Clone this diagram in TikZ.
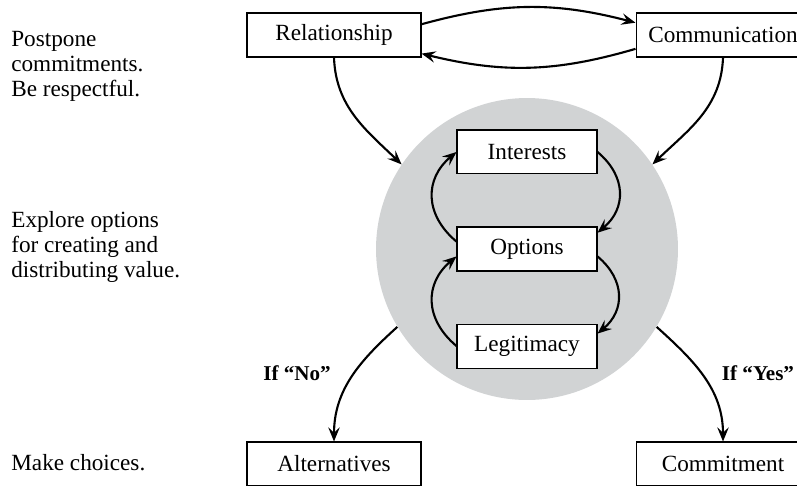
\documentclass[tikz,border=0pt]{standalone}
\usepackage{fontspec}
\setmainfont{Liberation Serif}
\usetikzlibrary{positioning,arrows.meta}
\definecolor{hubgray}{RGB}{209,211,212}
\begin{document}
\begin{tikzpicture}[
  x=0.02cm, y=0.02cm,
  font=\fontsize{13.2}{14.2}\selectfont,
  box/.style={rectangle, draw, line width=0.6pt, fill=white, minimum width=2.8cm, minimum height=0.88cm, inner sep=1pt},
  wide/.style={box, minimum width=3.48cm},
  note/.style={anchor=west, align=left, inner sep=0pt},
  cond/.style={font=\fontsize{12}{14}\selectfont\bfseries},
  flow/.style={-{Stealth[length=8pt,width=6.5pt,inset=3pt]}, line width=1.2pt}
]
\useasboundingbox (0,0) rectangle (797,485);
\clip (0,0) rectangle (797,485);

% the grey hub and its three steps
\node[circle, fill=hubgray, minimum size=6.04cm, inner sep=0pt] (hub) at (527,236) {};
\node[box] (opt) at (527,236) {Options};
\node[box, above=1.04cm of opt] (int) {Interests};
\node[box, below=1.04cm of opt] (leg) {Legitimacy};

% outer boxes
\node[wide] (rel) at (334,450) {Relationship};
\node[wide] (com) at (723,450) {Communication};
\node[wide] (alt) at (334,21) {Alternatives};
\node[wide] (cmt) at (723,21) {Commitment};

% notes on the left
\node[note] (n1) at (11,419) {Postpone\\commitments.\\Be respectful.};
\node[note] (n2) at (11,238) {Explore options\\for creating and\\distributing value.};
\node[note] (n3) at (11,22) {Make choices.};

\draw[flow] (rel.7) to[bend left=15] (com.172);
\draw[flow] (com.189) to[bend left=15] (rel.-12);
\draw[flow] (rel.south) to[out=-88, in=136] (hub.146);
\draw[flow] (com.south) to[out=-92, in=44] (hub.34);

\draw[flow] (int.east) to[out=-40, in=40, looseness=1.2] (opt.13);
\draw[flow] (opt.-6) to[out=-40, in=40, looseness=1.2] (leg.10);
\draw[flow] (leg.west) to[out=140, in=220, looseness=1.2] (opt.186);
\draw[flow] (opt.174) to[out=140, in=220, looseness=1.2] (int.west);

\draw[flow] (hub.211) to[out=222, in=90] (alt.north);
\draw[flow] (hub.329) to[out=-42, in=90] (cmt.north);
\node[cond] (no) at (297,112) {If “No”};
\node[cond] (yes) at (758,112) {If “Yes”};
\end{tikzpicture}
\end{document}
